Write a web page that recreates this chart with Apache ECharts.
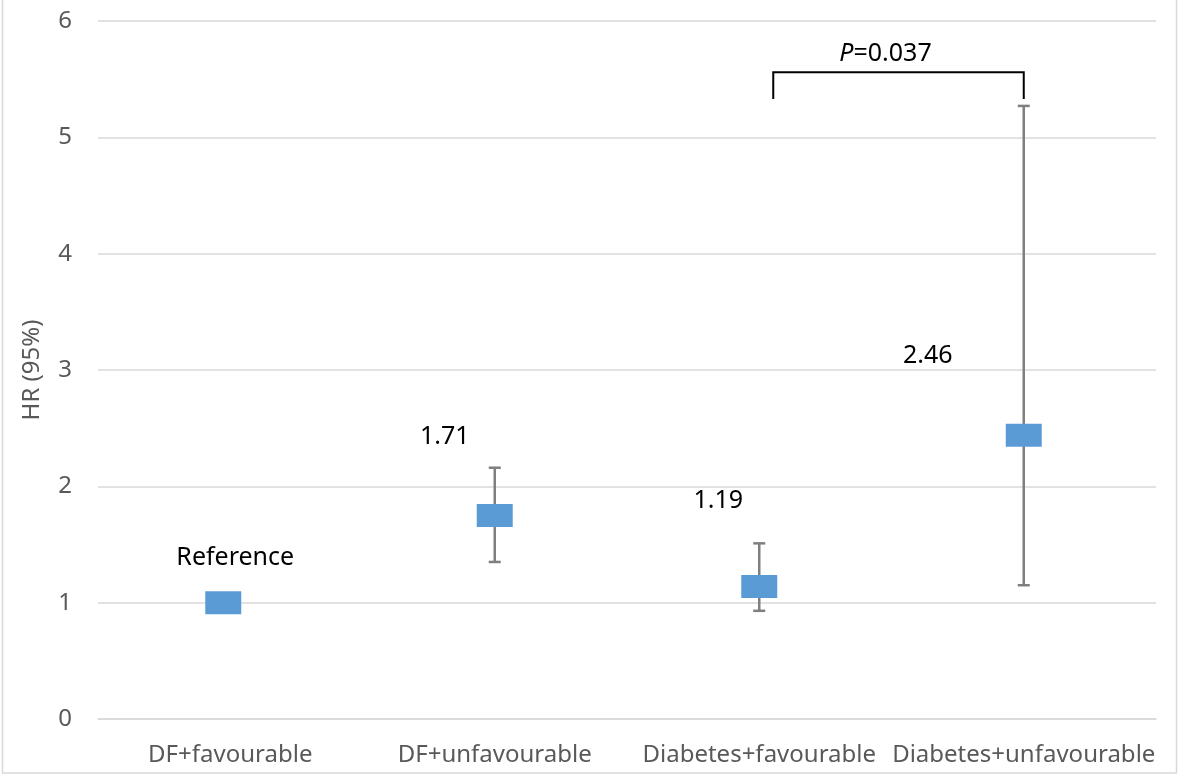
<!DOCTYPE html>
<html>
<head>
<meta charset="utf-8">
<script src="https://cdn.jsdelivr.net/npm/echarts@6/dist/echarts.min.js"></script>
<style>html,body{margin:0;padding:0;background:#fff}#c{width:1179px;height:775px}</style>
</head>
<body>
<div id="c"></div>
<script>
// ---- data ----
var categories = ['DF+favourable', 'DF+unfavourable', 'Diabetes+favourable', 'Diabetes+unfavourable'];
var hrValues = [1.0, 1.75, 1.14, 2.44];
var ciLow = [null, 1.35, 0.93, 1.15];
var ciHigh = [null, 2.16, 1.51, 5.27];
var pointLabels = ['Reference', '1.71', '1.19', '2.46'];
var yTicks = [0, 1, 2, 3, 4, 5, 6];
var comparison = { from: 2, to: 3, low: 5.33, high: 5.56, text: '0.037' };

// ---- styles ----
var FONT = 'Noto Sans';
var labelOffsets = [[12, -45], [-50, -79], [-41, -86], [-96, -79]];
var markerShift = [[-7, 0], [0, 0], [0, 0], [0, 0]];

var chart = echarts.init(document.getElementById('c'));

var markerData = hrValues.map(function (v, i) {
  return {
    value: v,
    symbolOffset: markerShift[i],
    label: { formatter: pointLabels[i], offset: labelOffsets[i] }
  };
});

var errData = [];
for (var i = 0; i < categories.length; i++) {
  if (ciLow[i] != null) errData.push([i, ciLow[i], ciHigh[i]]);
}

var option = {
  backgroundColor: '#fff',
  animation: false,
  grid: { left: 98, right: 23, top: 21, bottom: 56, containLabel: false },
  xAxis: {
    type: 'category',
    data: categories,
    axisLine: { show: true, lineStyle: { color: '#D9D9D9', width: 1.5 } },
    axisTick: { show: false },
    axisLabel: { color: '#595959', fontFamily: FONT, fontSize: 24, margin: 24, interval: 0 }
  },
  yAxis: {
    type: 'value',
    min: yTicks[0],
    max: yTicks[yTicks.length - 1],
    interval: 1,
    name: 'HR (95%)',
    nameLocation: 'middle',
    nameGap: 54,
    nameTextStyle: { color: '#595959', fontFamily: FONT, fontSize: 24 },
    axisLine: { show: false },
    axisTick: { show: false },
    splitLine: { lineStyle: { color: '#D9D9D9', width: 1.5 } },
    axisLabel: { color: '#595959', fontFamily: FONT, fontSize: 24, margin: 26 }
  },
  series: [
    {
      type: 'custom',
      name: 'ci',
      z: 2,
      data: errData,
      encode: { x: 0, y: [1, 2] },
      renderItem: function (params, api) {
        var lo = api.coord([api.value(0), api.value(1)]);
        var hi = api.coord([api.value(0), api.value(2)]);
        var cap = 6;
        var st = { stroke: '#7F7F7F', lineWidth: 2.5 };
        return {
          type: 'group',
          children: [
            { type: 'line', shape: { x1: lo[0], y1: lo[1], x2: hi[0], y2: hi[1] }, style: st },
            { type: 'line', shape: { x1: lo[0] - cap, y1: lo[1], x2: lo[0] + cap, y2: lo[1] }, style: st },
            { type: 'line', shape: { x1: hi[0] - cap, y1: hi[1], x2: hi[0] + cap, y2: hi[1] }, style: st }
          ]
        };
      }
    },
    {
      type: 'scatter',
      name: 'HR',
      z: 3,
      symbol: 'rect',
      symbolSize: [36, 23],
      itemStyle: { color: '#5B9BD5', opacity: 1 },
      label: {
        show: true,
        position: 'inside',
        color: '#000',
        fontFamily: FONT,
        fontSize: 25
      },
      data: markerData
    },
    {
      type: 'custom',
      name: 'bracket',
      z: 4,
      data: [[comparison.from, comparison.to, comparison.low, comparison.high]],
      encode: { x: [0, 1], y: [2, 3] },
      renderItem: function (params, api) {
        var a = api.coord([api.value(0), api.value(2)]);
        var b = api.coord([api.value(1), api.value(3)]);
        var x1 = a[0] + 14, x2 = b[0], yb = a[1], yt = b[1];
        return {
          type: 'group',
          children: [
            {
              type: 'polyline',
              shape: { points: [[x1, yb], [x1, yt], [x2, yt], [x2, yb]] },
              style: { stroke: '#000', lineWidth: 2, fill: null }
            },
            {
              type: 'text',
              x: (x1 + x2) / 2 - 13,
              y: yt - 6,
              style: {
                text: '{i|P}{n|=' + comparison.text + '}',
                align: 'center',
                verticalAlign: 'bottom',
                rich: {
                  i: { fontStyle: 'italic', fontFamily: FONT, fontSize: 25, fill: '#000' },
                  n: { fontFamily: FONT, fontSize: 25, fill: '#000' }
                }
              }
            }
          ]
        };
      }
    }
  ],
  graphic: [
    {
      type: 'rect',
      shape: { x: 2.5, y: -1, width: 1174, height: 774 },
      style: { fill: null, stroke: '#D9D9D9', lineWidth: 1.5 },
      silent: true
    }
  ]
};
chart.setOption(option);
</script>
</body>
</html>
